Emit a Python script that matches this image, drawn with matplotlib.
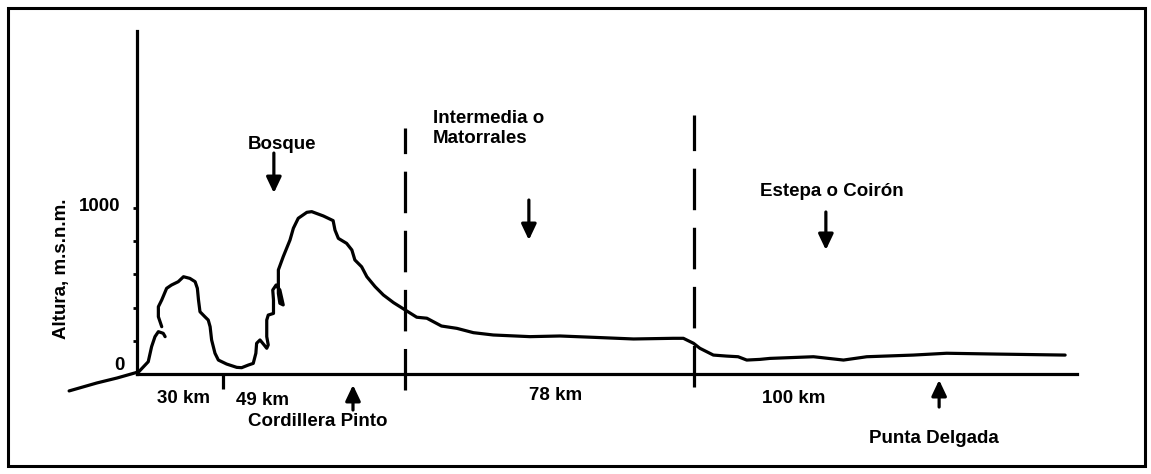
import matplotlib
matplotlib.use("Agg")
import matplotlib.pyplot as plt
from matplotlib.patches import Rectangle
import numpy as np

plt.rcParams["font.family"] = ["Liberation Sans", "DejaVu Sans"]

# altitude profile (distance along the transect, altitude in m.s.n.m.)
# first piece: the short hook rising off the coast
hook_km = [-18.1, -10.7, -5.3, 0.3, 0.5, 3.0, 3.9, 4.8, 5.7, 7.0, 7.5]
hook_m = [-102, -54, -24, 12, 14, 74, 165, 225, 255, 245, 225]
# main piece: cordillera, bosque, matorrales and estepa
prof_km = [6.6, 5.7, 5.7, 6.6, 7.9, 9.2, 11.0, 12.4, 14.1, 15.5, 16.1, 16.4,
           16.8, 18.1, 19.0, 19.5, 19.9, 20.8, 21.7, 23.9, 26.6, 27.9, 29.7,
           31.0, 31.7, 31.9, 32.8, 33.9, 34.6, 35.0, 34.6, 34.6, 35.0, 36.4,
           36.4, 36.2, 37.1, 38.1, 38.6, 39.0, 38.1, 37.7, 37.7, 39.0, 40.8,
           41.7, 43.0, 45.3, 46.6, 49.7, 52.3, 52.8, 53.7, 55.9, 57.3, 58.1,
           59.9, 61.3, 63.5, 65.7, 68.4, 71.5, 74.6, 77.3, 81.2, 85.3, 89.7,
           95.0, 104.8, 112.8, 121.7, 132.4, 143.0, 145.7, 148.4, 150.1,
           153.7, 157.2, 160.3, 162.6, 166.1, 168.8, 180.4, 188.4, 194.6,
           207.0, 215.9, 229.3, 247.5]
prof_m = [285, 345, 405, 446, 516, 536, 556, 586, 576, 556, 516, 446,
          375, 345, 325, 285, 205, 125, 84, 60, 40, 38, 54,
          64, 125, 185, 205, 175, 155, 175, 225, 325, 355, 365,
          446, 506, 536, 506, 456, 416, 426, 486, 627, 707, 807,
          878, 938, 974, 978, 952, 924, 867, 817, 787, 747, 687,
          646, 586, 526, 476, 430, 386, 342, 336, 289, 275, 249,
          235, 225, 229, 221, 211, 215, 215, 185, 155,
          114, 108, 104, 84, 88, 94, 104, 84, 104,
          114, 125, 120, 114]

# zone limits along the baseline
seg_tick = 22.9
zone_limits = [71.5, 148.5]
zone_tops = [1482, 1560]
zone_bottoms = [-96, -78]
axis_end = 250.7
yaxis_top = 2066
yticks = [200, 400, 600, 800, 1000]

seg_labels = ["30 km", "49 km", "78 km", "100 km"]
seg_label_x = [12.3, 33.6, 111.5, 175.2]
seg_label_y = [-145, -157, -127, -145]

fig = plt.figure(figsize=(11.51, 4.74), dpi=100)
ax = fig.add_axes([0, 0, 1, 1])
ax.set_xlim(-36.53, 270.4)
ax.set_ylim(-602.4, 2253)
ax.patch.set_alpha(0)

LW = 2.3
ax.plot(hook_km, hook_m, color="k", lw=LW, solid_capstyle="round",
        solid_joinstyle="round")
ax.plot(prof_km, prof_m, color="k", lw=LW, solid_capstyle="round",
        solid_joinstyle="round")

# axes drawn as spines crossing at the origin
for s in ["top", "right"]:
    ax.spines[s].set_visible(False)
ax.spines["left"].set_position(("data", 0))
ax.spines["bottom"].set_position(("data", 0))
ax.spines["left"].set_bounds(0, yaxis_top)
ax.spines["bottom"].set_bounds(0, axis_end)
ax.spines["left"].set_linewidth(LW)
ax.spines["bottom"].set_linewidth(LW)
ax.set_yticks(yticks)
ax.set_yticklabels([])
ax.tick_params(axis="y", direction="out", length=3, width=2)
ax.set_xticks([seg_tick])
ax.set_xticklabels([])
ax.tick_params(axis="x", direction="out", length=11, width=LW)

for xz, top, bot in zip(zone_limits, zone_tops, zone_bottoms):
    ax.plot([xz, xz], [bot, top], color="k", lw=LW, dashes=(13, 5.5))

font = dict(fontsize=13.5, fontweight="bold", color="k")
ax.text(-4.3, 1012, "1000", ha="right", va="center", **font)
ax.text(-3.2, 54, "0", ha="right", va="center", **font)
ax.text(-20, 633, "Altura, m.s.n.m.", rotation=90, ha="center",
        va="center", **font)

for lab, x, y in zip(seg_labels, seg_label_x, seg_label_y):
    ax.text(x, y, lab, ha="center", va="center", **font)

ax.text(38.7, 1380, "Bosque", ha="center", va="center", **font)
ax.text(78.9, 1590, "Intermedia o\nMatorrales", ha="left", va="top",
        linespacing=1.2, **font)
ax.text(166.1, 1102, "Estepa o Coirón", ha="left", va="center", **font)
ax.text(48.3, -289, "Cordillera Pinto", ha="center", va="center", **font)
ax.text(212.5, -386, "Punta Delgada", ha="center", va="center", **font)

arrow = dict(arrowstyle="-|>,head_length=0.95,head_width=0.45", lw=LW,
             color="k", shrinkA=0, shrinkB=0)
down_arrows = [(36.5, 1331, 1090), (104.5, 1048, 807), (183.7, 976, 747)]
up_arrows = [(57.6, -217, -66), (213.9, -199, -36)]
for x, y0, y1 in down_arrows + up_arrows:
    ax.annotate("", xy=(x, y1), xytext=(x, y0), arrowprops=arrow)

fig.patches.append(Rectangle((8 / 1151, 8 / 474), 1137 / 1151, 458 / 474,
                             transform=fig.transFigure, fill=False,
                             lw=2.2, ec="k"))

fig.savefig("out.png", dpi=100)
